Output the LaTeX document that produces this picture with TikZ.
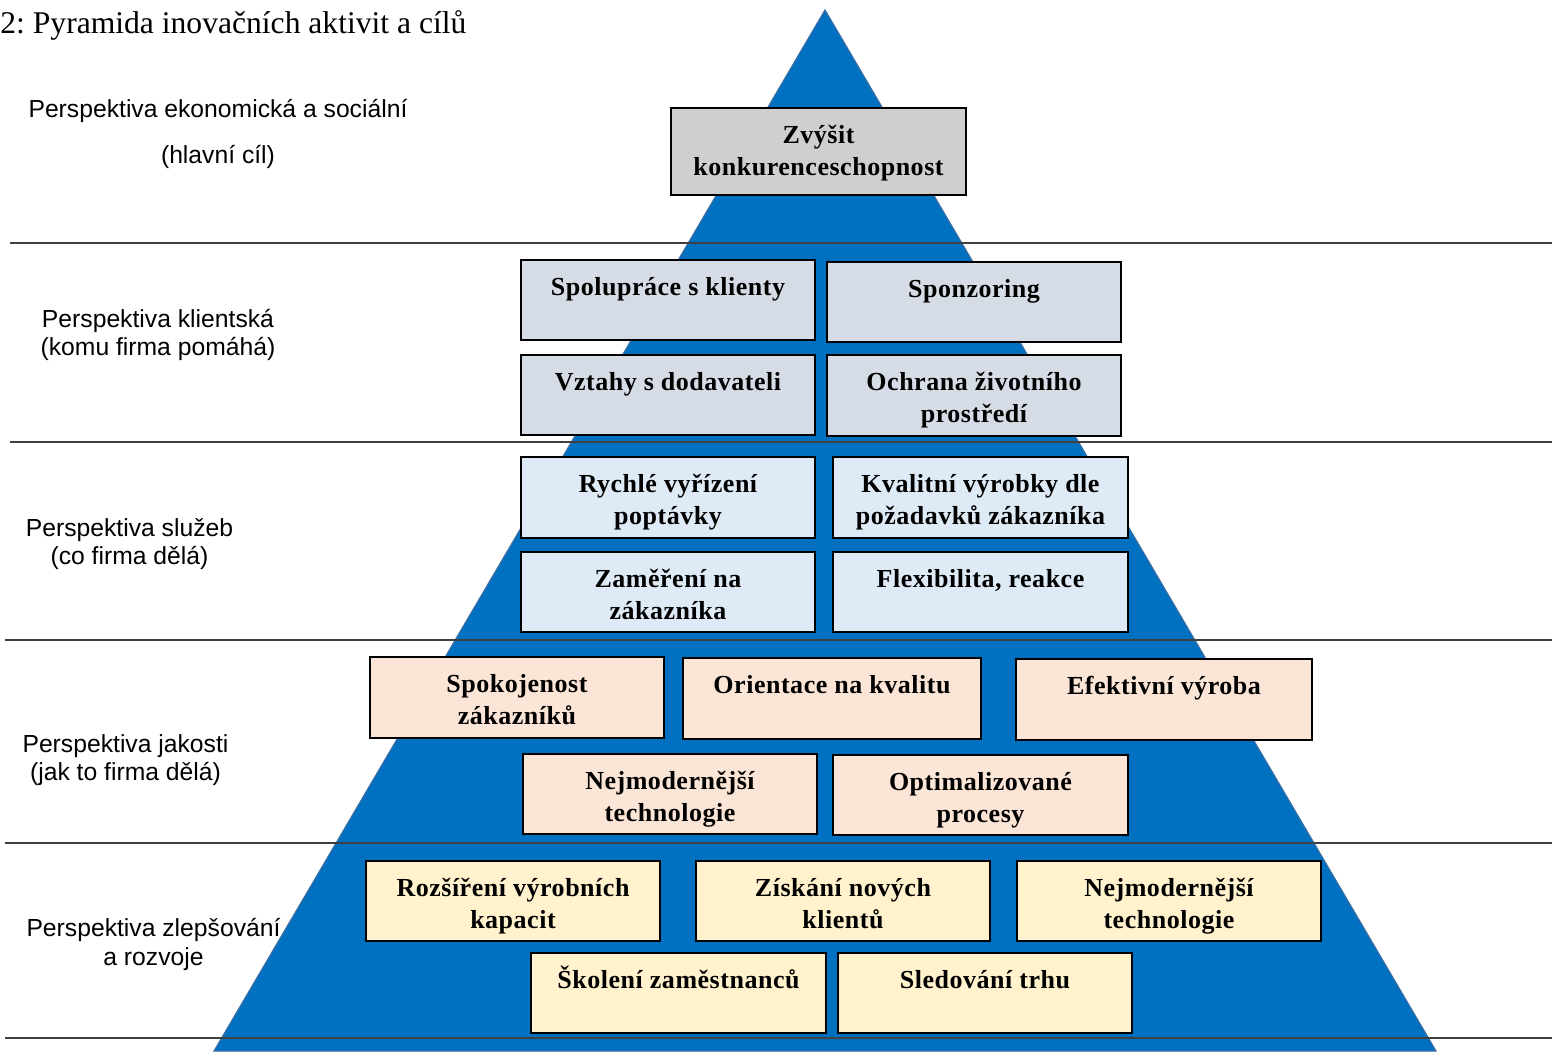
\documentclass[tikz,border=0pt]{standalone}
\usepackage{fontspec}
\setmainfont{Liberation Serif}
\setsansfont{Liberation Sans}
\newfontfamily\boxfont[LetterSpace=2.0]{Liberation Serif}
\frenchspacing

\definecolor{pyrblue}{HTML}{0070C0}
\definecolor{pyredge}{HTML}{3A6EA5}
\definecolor{sepgray}{HTML}{404040}
\definecolor{boxgray}{HTML}{D0CECE}
\definecolor{boxslate}{HTML}{D6DCE5}
\definecolor{boxblue}{HTML}{DEEBF7}
\definecolor{boxpeach}{HTML}{FBE5D6}
\definecolor{boxcream}{HTML}{FFF2CC}

% \tbox{name}{x1}{y1}{x2}{y2}{fill}{text}: box with its text set at the top
\newcommand{\tbox}[7]{%
  \node[box, fill=#6,
        minimum width={(#4-#2)*0.5pt}, minimum height={(#5-#3)*0.5pt},
        label={[boxtext]north:{\rule{0pt}{17.5pt}#7}}] (#1) at (#2,#3) {};}

\begin{document}
\begin{tikzpicture}[x=0.5pt, y=-0.5pt,
  sep/.style={draw=sepgray, line width=0.7pt},
  box/.style={draw=black, line width=1pt, inner sep=0pt, outer sep=0pt, anchor=north west},
  boxtext/.style={anchor=north, inner sep=0pt, align=center,
                  font=\boxfont\bfseries\fontsize{13pt}{16pt}\selectfont},
  side/.style={anchor=base, align=center, inner sep=0pt,
               font=\sffamily\fontsize{12.35pt}{14pt}\selectfont}]

\useasboundingbox (0,0) rectangle (1552,1051);

% title
\node[anchor=base west, inner sep=0pt, font=\fontsize{15.8pt}{18pt}\selectfont]
  (title) at (0,33) {2: Pyramida inovačních aktivit a cílů};

% pyramid
\fill[pyrblue, draw=pyredge, line width=0.6pt] (825,10) -- (1436,1051) -- (214,1051) -- cycle;

% level separators
\draw[sep] (10,243) -- (1552,243);
\draw[sep] (10,442) -- (1552,442);
\draw[sep] (5,640) -- (1552,640);
\draw[sep] (5,843) -- (1552,843);
\draw[sep] (5,1038) -- (1552,1038);

% level names (anchored at the baseline of their last line)
\node[side, font=\sffamily\fontsize{12.35pt}{23pt}\selectfont] (p1) at (218,163)
  {Perspektiva ekonomická a sociální\\(hlavní cíl)};
\node[side] (p2) at (158,355) {Perspektiva klientská\\(komu firma pomáhá)};
\node[side] (p3) at (129.5,564) {Perspektiva služeb\\(co firma dělá)};
\node[side] (p4) at (125.5,780) {Perspektiva jakosti\\(jak to firma dělá)};
\node[side, font=\sffamily\fontsize{12.35pt}{14.5pt}\selectfont] (p5) at (153.5,965)
  {Perspektiva zlepšování\\a rozvoje};

% main goal
\tbox{g}{671}{108}{966}{195}{boxgray}{Zvýšit\\konkurenceschopnost}

% clients
\tbox{c1}{521}{260}{815}{340}{boxslate}{Spolupráce s klienty}
\tbox{c2}{827}{262}{1121}{342}{boxslate}{Sponzoring}
\tbox{c3}{521}{355}{815}{435}{boxslate}{Vztahy s dodavateli}
\tbox{c4}{827}{355}{1121}{436}{boxslate}{Ochrana životního\\prostředí}

% services
\tbox{s1}{521}{457}{815}{538}{boxblue}{Rychlé vyřízení\\poptávky}
\tbox{s2}{833}{457}{1128}{538}{boxblue}{Kvalitní výrobky dle\\požadavků zákazníka}
\tbox{s3}{521}{552}{815}{632}{boxblue}{Zaměření na\\zákazníka}
\tbox{s4}{833}{552}{1128}{632}{boxblue}{Flexibilita, reakce}

% quality
\tbox{q1}{370}{657}{664}{738}{boxpeach}{Spokojenost\\zákazníků}
\tbox{q2}{683}{658}{981}{739}{boxpeach}{Orientace na kvalitu}
\tbox{q3}{1016}{659}{1312}{740}{boxpeach}{Efektivní výroba}
\tbox{q4}{523}{754}{817}{834}{boxpeach}{Nejmodernější\\technologie}
\tbox{q5}{833}{755}{1128}{835}{boxpeach}{Optimalizované\\procesy}

% improvement and development
\tbox{d1}{366}{861}{660}{941}{boxcream}{Rozšíření výrobních\\kapacit}
\tbox{d2}{696}{861}{990}{941}{boxcream}{Získání nových\\klientů}
\tbox{d3}{1017}{861}{1321}{941}{boxcream}{Nejmodernější\\technologie}
\tbox{d4}{531}{953}{826}{1033}{boxcream}{Školení zaměstnanců}
\tbox{d5}{838}{953}{1132}{1033}{boxcream}{Sledování trhu}

\end{tikzpicture}
\end{document}
